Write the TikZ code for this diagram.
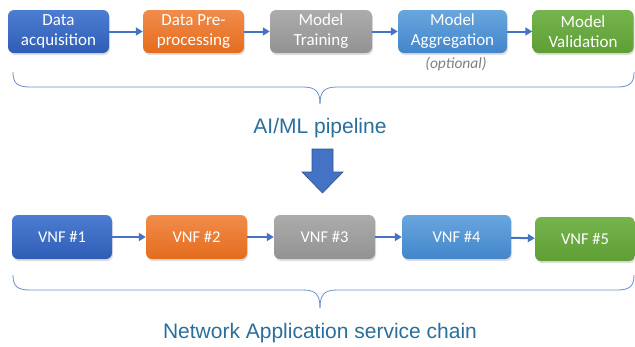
\documentclass[tikz,border=0pt]{standalone}
\usepackage{fontspec}
\setmainfont{Carlito}
\newfontfamily\titlefont{Liberation Sans}
\usetikzlibrary{shadows,arrows.meta}
\definecolor{arrowblue}{HTML}{4472C4}
\definecolor{bracecol}{HTML}{6A8FD0}
\definecolor{titlecol}{HTML}{2A6E9C}
\definecolor{blueT}{RGB}{76,125,210}
\definecolor{blueB}{RGB}{47,93,182}
\definecolor{orangeT}{RGB}{241,140,74}
\definecolor{orangeB}{RGB}{228,108,30}
\definecolor{grayT}{RGB}{172,172,172}
\definecolor{grayB}{RGB}{146,146,146}
\definecolor{lightT}{RGB}{104,166,222}
\definecolor{lightB}{RGB}{66,133,202}
\definecolor{greenT}{RGB}{118,181,77}
\definecolor{greenB}{RGB}{94,158,53}
\definecolor{optgray}{RGB}{127,127,127}
\definecolor{bigarrowedge}{RGB}{47,82,143}
\tikzset{
  box/.style={rounded corners=6pt, minimum height=43pt, inner sep=0pt, align=center,
    text=white, font=\fontsize{17}{20}\selectfont,
    drop shadow={shadow xshift=1pt, shadow yshift=-2pt, opacity=0.25}},
  vbox/.style={box, minimum height=44pt, font=\fontsize{16.5}{20}\selectfont},
  cblue/.style={top color=blueT, bottom color=blueB},
  corange/.style={top color=orangeT, bottom color=orangeB},
  cgray/.style={top color=grayT, bottom color=grayB},
  clight/.style={top color=lightT, bottom color=lightB},
  cgreen/.style={top color=greenT, bottom color=greenB},
  link/.style={draw=arrowblue, line width=2pt, -{Triangle[length=7pt,width=8pt]}},
  bracestyle/.style={draw=bracecol, line width=0.8pt},
  title/.style={text=titlecol, font=\titlefont\fontsize{21}{24}\selectfont},
}
\begin{document}
\begin{tikzpicture}[x=1pt,y=-1pt]
\useasboundingbox (0,0) rectangle (635,346);
% top row
\node[box, cblue, minimum width=101pt] (a1) at (58.5,31.5) {Data\\acquisition};
\node[box, corange, minimum width=101pt] (a2) at (193.5,31.5) {Data Pre-\\processing};
\node[box, cgray, minimum width=102pt] (a3) at (321,31.5) {Model\\Training};
\node[box, clight, minimum width=109pt] (a4) at (452.5,31.5) {Model\\Aggregation};
\node[box, cgreen, minimum width=101pt] (a5) at (583,31.5) {Model\\Validation};
\node[text=optgray, font=\itshape\fontsize{15.5}{18}\selectfont] (opt) at (456,64) {(optional)};
\draw[link] (a1) -- (a2);
\draw[link] (a2) -- (a3);
\draw[link] (a3) -- (a4);
\draw[link] (a4) -- (a5);
% top brace
\draw[bracestyle] (13,72) .. controls (13,83) and (17,87) .. (30,87) -- (303,87)
  .. controls (316,87) and (320,92) .. (320,104);
\draw[bracestyle] (320,104) .. controls (320,92) and (324,87) .. (337,87) -- (617,87)
  .. controls (630,87) and (634,83) .. (634,72);
\node[title] (t1) at (320,128) {AI/ML pipeline};
% big arrow
\draw[fill=arrowblue, draw=bigarrowedge, line width=0.6pt]
  (312,149) -- (333,149) -- (333,172) -- (343,172) -- (322.5,193) -- (302,172) -- (312,172) -- cycle;
% bottom row
\node[vbox, cblue, minimum width=100pt] (b1) at (62,237) {VNF \#1};
\node[vbox, corange, minimum width=101pt] (b2) at (196.5,237) {VNF \#2};
\node[vbox, cgray, minimum width=101pt] (b3) at (324.5,237) {VNF \#3};
\node[vbox, clight, minimum width=109pt] (b4) at (456.5,237) {VNF \#4};
\node[vbox, cgreen, minimum width=100pt] (b5) at (585,239) {VNF \#5};
\draw[link] (b1) -- (b2);
\draw[link] (b2) -- (b3);
\draw[link] (b3) -- (b4);
\draw[link] (b4) -- (b5);
% bottom brace
\draw[bracestyle] (13,275) .. controls (13,286) and (17,290) .. (30,290) -- (303,290)
  .. controls (316,290) and (320,295) .. (320,308);
\draw[bracestyle] (320,308) .. controls (320,295) and (324,290) .. (337,290) -- (617,290)
  .. controls (630,290) and (634,286) .. (634,275);
\node[title] (t2) at (320,333) {Network Application service chain};
\end{tikzpicture}
\end{document}
